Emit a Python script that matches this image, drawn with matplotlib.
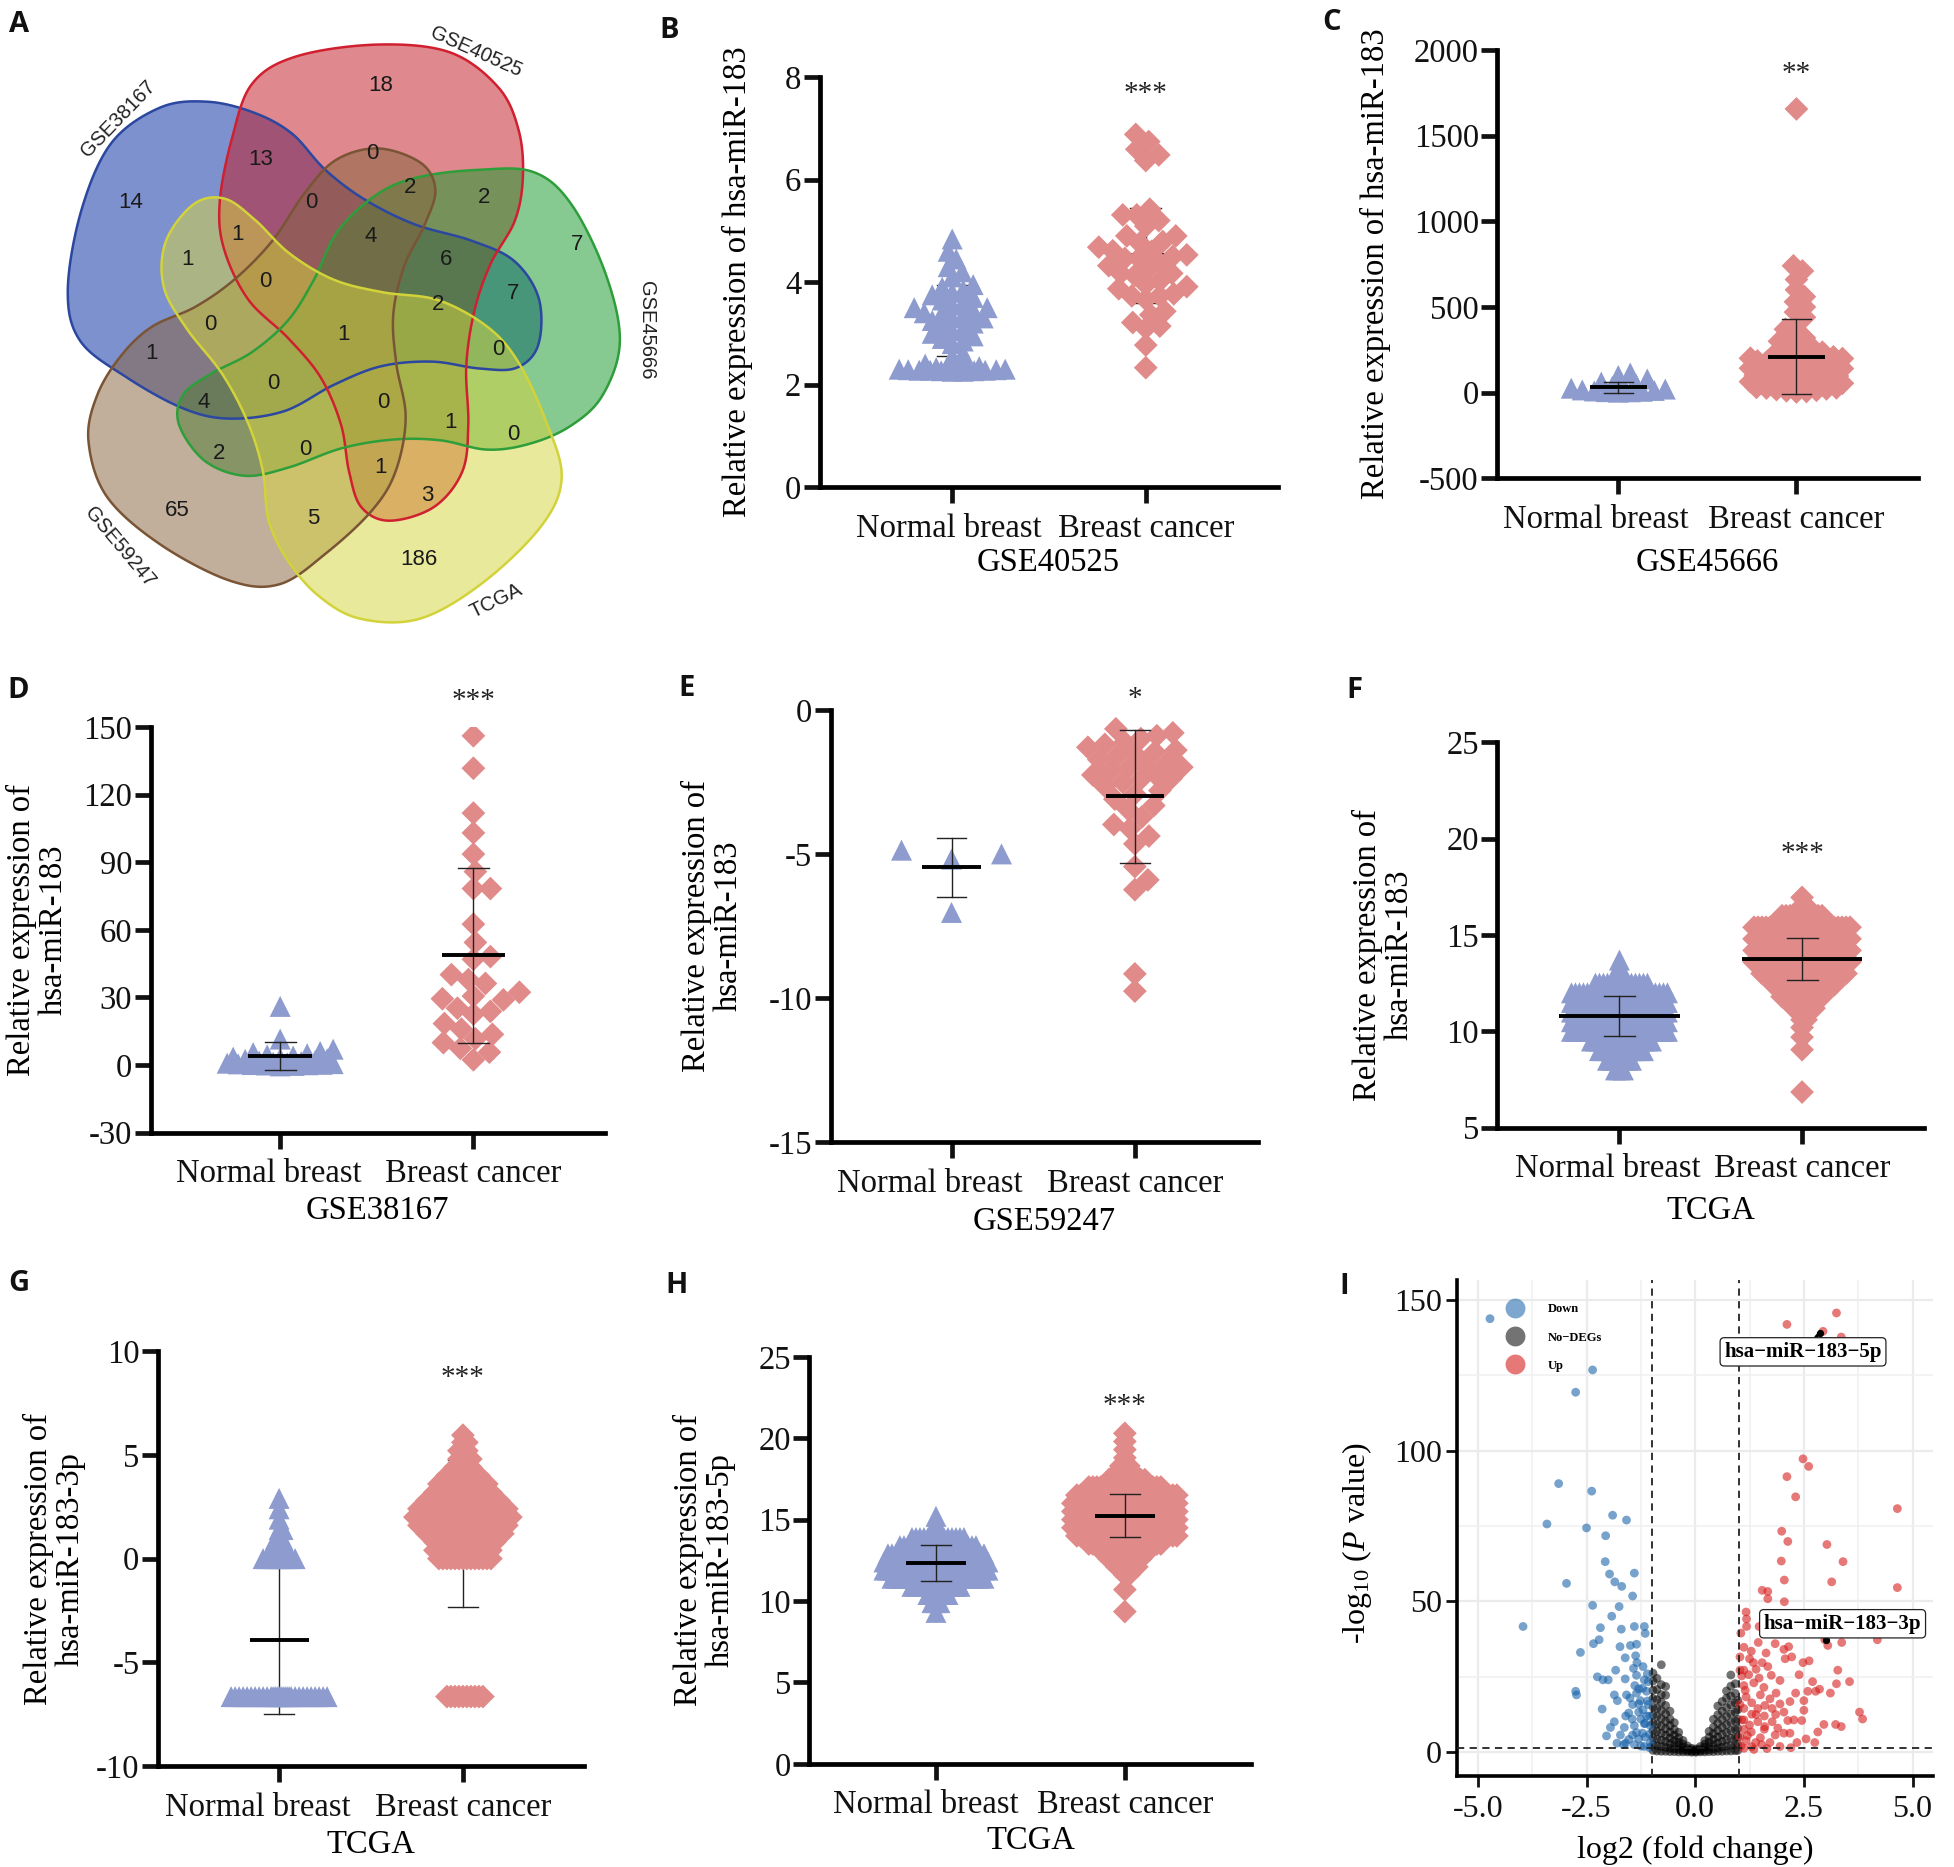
import numpy as np
import matplotlib
matplotlib.use("Agg")
import matplotlib.pyplot as plt
from matplotlib.patches import Polygon
from matplotlib.lines import Line2D
from matplotlib.ticker import MultipleLocator, FormatStrFormatter
from matplotlib.transforms import ScaledTranslation

plt.rcParams['font.family'] = 'serif'
plt.rcParams['font.serif'] = ['Liberation Serif', 'DejaVu Serif']
plt.rcParams['axes.unicode_minus'] = False
plt.rcParams['mathtext.fontset'] = 'custom'
plt.rcParams['mathtext.rm'] = 'Liberation Serif'
plt.rcParams['mathtext.it'] = 'Liberation Serif:italic'

# ---------------- data ----------------
groups = ['Normal breast', 'Breast cancer']

# A: venn counts (31 regions)
venn_sets = ['GSE40525', 'GSE45666', 'TCGA', 'GSE59247', 'GSE38167']
venn_counts = [18, 13, 0, 14, 0, 2, 2, 1, 4, 7, 1, 0, 6, 7, 0, 1, 2, 0, 1, 0,
               4, 0, 1, 0, 2, 0, 1, 3, 65, 5, 186]

# B: GSE40525
gse40525_normal = [4.84, 4.6, 4.45, 4.3, 4.2, 4.1, 3.95, 3.9, 3.85, 3.8, 3.75, 3.7,
                   3.65, 3.6, 3.55, 3.5, 3.5, 3.45, 3.4, 3.4, 3.35, 3.3, 3.3, 3.25,
                   3.2, 3.15, 3.1, 3.05, 3.0, 2.95, 2.9, 2.85, 2.8, 2.6, 2.55, 2.4,
                   2.35, 2.33, 2.32, 2.31, 2.3, 2.3, 2.3, 2.29, 2.29, 2.28, 2.28,
                   2.28, 2.27, 2.27, 2.26, 2.26]
gse40525_cancer = [6.88, 6.74, 6.59, 6.48, 6.37, 5.42, 5.31, 5.31, 5.09, 5.2, 4.9,
                   4.9, 4.79, 4.61, 4.76, 4.5, 4.68, 4.6, 4.53, 4.35, 4.32, 4.24,
                   4.13, 4.17, 4.46, 4.17, 4.46, 3.73, 3.77, 3.91, 3.87, 3.73, 4.02,
                   3.95, 3.66, 3.43, 3.36, 3.21, 3.1, 3.14, 2.77, 2.33]
# C: GSE45666
gse45666_normal = [115, 100, 80, 62, 48, 37, 30, 26, 21, 16, 13, 10, 8, 6, 5, 3]
gse45666_cancer = [1655, 740, 710, 660, 600, 560, 530, 500, 470, 440, 400, 370, 340,
                   320, 300, 280, 260, 248, 236, 231, 222, 214, 209, 201, 196, 188,
                   183, 177, 171, 164, 158, 152, 149, 141, 137, 130, 126, 119, 113,
                   108, 102, 97, 93, 88, 84, 79, 73, 69, 64, 58, 55, 49, 45, 41, 36,
                   31, 27, 22, 18, 14, 11, 7, 4, 199, 185, 166, 143, 121, 99, 77, 52, 28]
# D: GSE38167
gse38167_normal = [26, 11.5, 7.0, 6.0, 5.5, 5.0, 4.5, 4.0, 3.5, 3.0, 2.8, 2.5, 2.0,
                   1.8, 1.5, 1.2, 1.0, 0.8, 0.6, 0.5, 0.3, 0.2, 0.1, 0.0, -0.2, -0.4]
gse38167_cancer = [146.1, 131.7, 111.8, 103.0, 93.6, 85.8, 78.3, 78.3, 62.5, 54.4,
                   48.1, 46.9, 40.1, 37.9, 36.2, 30.6, 29.4, 28.9, 32.3, 23.8, 22.6,
                   25.2, 18.4, 15.9, 13.6, 11.6, 9.9, 7.4, 5.7, 2.3]
# E: GSE59247
gse59247_normal = [-4.87, -5.18, -5.0, -7.03]
gse59247_cancer = [-0.66, -0.8, -1.0, -1.13, -1.2, -1.6, -1.46, -1.53, -1.73, -2.26,
                   -2.26, -2.12, -2.65, -2.52, -3.32, -3.72, -3.98, -4.38, -4.65,
                   -5.44, -5.9, -6.24, -9.16, -9.76, -1.86, -2.39, -1.99, -2.92,
                   -3.45, -4.12, -0.9, -1.3, -1.4, -1.9, -2.0, -2.4, -2.8, -3.1]
# F: TCGA hsa-miR-183 (value levels and number of samples drawn at each)
tcga183_normal_lv = [8.0, 8.5, 9.0, 9.5, 10.0, 10.5, 11.0, 11.5, 12.0, 12.5, 13.0, 13.7]
tcga183_normal_n = [3, 7, 12, 16, 26, 28, 28, 28, 27, 14, 3, 1]
tcga183_cancer_lv = [6.85, 9.05, 9.7, 10.2, 10.6, 11.2, 11.8, 12.4, 13.0, 13.6, 14.2,
                     14.8, 15.4, 16.0, 16.5, 16.95]
tcga183_cancer_n = [1, 1, 1, 1, 2, 6, 11, 16, 22, 28, 28, 28, 26, 11, 2, 1]
# G: TCGA hsa-miR-183-3p
tcga3p_normal_lv = [-6.65, 0.0, 0.45, 0.9, 1.4, 1.9, 2.4, 2.9]
tcga3p_normal_n = [30, 9, 5, 3, 2, 1, 1, 1]
tcga3p_cancer_lv = [-6.65, 0.0, 0.4, 0.8, 1.2, 1.6, 2.0, 2.4, 2.8, 3.2, 3.6, 4.0, 4.4,
                    4.8, 5.2, 5.6, 5.95]
tcga3p_cancer_n = [10, 14, 15, 16, 20, 23, 25, 23, 19, 15, 13, 9, 5, 4, 3, 2, 1]
# H: TCGA hsa-miR-183-5p
tcga5p_normal_lv = [9.3, 9.9, 10.4, 10.9, 11.4, 11.9, 12.4, 12.9, 13.4, 13.9, 14.3, 14.8, 15.2]
tcga5p_normal_n = [1, 3, 6, 13, 24, 28, 27, 25, 20, 14, 3, 1, 1]
tcga5p_cancer_lv = [9.35, 10.7, 11.6, 12.1, 12.6, 13.1, 13.5, 14.0, 14.5, 15.0, 15.5,
                    16.0, 16.5, 17.0, 17.45, 17.9, 18.3, 18.8, 19.3, 19.8, 20.3]
tcga5p_cancer_n = [1, 1, 2, 6, 9, 13, 19, 26, 27, 27, 27, 27, 26, 19, 10, 5, 3, 1, 1, 1, 1]

# mean and SD of each group (normal, cancer)
stats_b = [(3.25, 0.70), (4.52, 0.92)]
stats_c = [(31, 33), (210, 220)]
stats_d = [(4.0, 6.0), (48.6, 39.0)]
stats_e = [(-5.47, 1.03), (-3.0, 2.3)]
stats_f = [(10.8, 1.05), (13.75, 1.1)]
stats_g = [(-3.94, 3.55), (1.2, 3.55)]
stats_h = [(12.35, 1.1), (15.25, 1.3)]

# I: volcano (log2 fold change, -log10 p)
down_pts = [(-4.72, 143.8), (-2.36, 126.8), (-2.75, 119.4), (-3.14, 89.1), (-2.38, 86.6),
            (-3.41, 75.7), (-2.50, 74.4), (-1.90, 78.6), (-1.58, 77.0), (-2.06, 71.8),
            (-2.07, 63.2), (-1.97, 59.1), (-1.85, 56.5), (-1.69, 55.0), (-1.40, 59.4),
            (-1.44, 51.8), (-2.96, 56.0), (-2.36, 48.7), (-1.75, 48.3), (-1.92, 45.1),
            (-3.96, 41.7), (-2.18, 41.3), (-1.70, 40.8), (-1.40, 41.7), (-1.17, 41.7),
            (-1.15, 39.4), (-2.64, 33.1), (-2.34, 36.0), (-2.21, 37.3), (-1.73, 35.0),
            (-1.49, 35.4), (-1.35, 35.8), (-1.61, 31.3), (-1.37, 32.0), (-1.34, 29.7),
            (-1.42, 27.8), (-1.20, 28.4), (-2.25, 25.0), (-2.12, 24.0), (-2.00, 24.0),
            (-1.83, 27.2), (-1.61, 24.3), (-1.35, 25.5), (-1.17, 24.0), (-1.08, 23.4),
            (-1.39, 22.1), (-1.21, 21.2), (-2.75, 20.2), (-2.73, 19.0), (-1.86, 19.0),
            (-1.58, 19.0), (-1.35, 19.6), (-1.12, 20.2), (-2.14, 14.3), (-1.79, 17.1),
            (-1.44, 15.8), (-1.26, 17.1), (-1.08, 15.8), (-1.53, 13.0), (-1.30, 13.3),
            (-1.12, 12.0), (-1.86, 10.1), (-1.95, 8.2), (-1.63, 8.2), (-1.40, 8.8),
            (-1.17, 9.5), (-1.03, 8.8), (-2.04, 5.4), (-1.72, 5.7), (-1.44, 5.7),
            (-1.21, 6.3), (-1.65, 2.5), (-1.40, 2.5), (-1.17, 1.9), (-1.03, 3.2),
            (-1.30, 4.4), (-1.53, 4.2), (-1.05, 12.0), (-1.10, 17.0), (-1.25, 11.0),
            (-1.15, 5.0), (-1.05, 1.5), (-1.25, 2.0), (-1.45, 11.0), (-1.60, 12.0),
            (-1.10, 26.0), (-1.30, 21.0), (-1.50, 18.0), (-1.20, 14.0), (-1.35, 6.5),
            (-1.60, 3.0), (-1.80, 3.0), (-1.05, 6.0), (-1.15, 9.5), (-1.30, 16.0)]
up_pts = [(2.11, 141.9), (3.25, 145.7), (2.94, 139.6), (3.36, 137.7), (2.48, 97.3),
          (2.61, 94.8), (2.11, 91.4), (2.31, 84.7), (4.65, 80.8), (1.99, 73.3),
          (2.13, 69.9), (3.03, 68.9), (3.40, 63.2), (1.98, 63.4), (2.05, 57.1),
          (3.14, 56.5), (4.65, 54.6), (1.54, 53.7), (1.67, 53.3), (1.67, 50.9),
          (2.05, 49.9), (1.17, 46.5), (1.18, 44.2), (1.18, 41.7), (1.47, 41.7),
          (2.04, 41.1), (2.89, 40.4), (4.19, 37.3), (3.37, 36.4), (3.05, 35.4),
          (2.98, 37.3), (1.45, 36.4), (1.84, 36.0), (2.15, 35.0), (1.12, 34.8),
          (1.29, 33.5), (2.04, 34.1), (1.63, 32.9), (2.22, 31.6), (1.03, 31.6),
          (1.34, 29.7), (1.54, 29.7), (2.07, 31.0), (2.48, 29.7), (2.62, 30.3),
          (3.28, 27.2), (1.12, 27.2), (1.67, 28.4), (2.39, 25.7), (1.23, 25.7),
          (1.47, 24.6), (1.95, 23.8), (3.55, 23.4), (3.25, 22.7), (2.70, 23.4),
          (1.12, 22.1), (1.58, 21.5), (2.59, 20.2), (2.77, 20.2), (2.86, 20.9),
          (3.11, 19.6), (2.31, 19.6), (1.86, 19.6), (1.17, 18.3), (1.30, 16.4),
          (1.72, 17.7), (2.18, 16.8), (2.50, 17.1), (1.44, 14.5), (1.12, 14.5),
          (1.77, 14.5), (2.04, 13.3), (2.50, 13.9), (3.78, 13.3), (3.85, 11.0),
          (1.30, 12.6), (1.59, 12.0), (1.12, 10.7), (1.44, 10.1), (1.77, 10.1),
          (2.13, 10.5), (2.27, 10.7), (2.45, 10.5), (2.96, 9.2), (3.23, 9.2),
          (3.36, 8.5), (2.82, 6.7), (1.12, 7.6), (1.29, 6.7), (1.59, 7.6),
          (1.84, 5.7), (2.04, 6.3), (2.18, 6.3), (2.55, 4.4), (2.34, 3.2),
          (2.75, 3.2), (1.17, 3.8), (1.39, 3.2), (1.72, 3.2), (1.95, 1.9),
          (1.12, 1.3), (1.35, 0.9), (1.53, 2.5), (1.03, 5.1), (1.07, 10.7),
          (1.03, 15.8), (1.07, 25.3), (1.03, 27.2), (1.05, 2.0), (1.20, 5.5),
          (1.25, 9.0), (1.40, 12.5), (1.15, 20.5), (1.35, 23.0), (1.50, 19.0),
          (1.60, 15.5), (1.25, 31.0), (1.40, 27.5), (1.05, 39.5), (1.60, 8.5),
          (1.85, 12.5), (1.90, 8.0), (1.50, 4.8), (1.30, 1.8), (1.65, 1.2),
          (2.20, 1.5), (1.75, 25.5), (1.95, 16.0)]
nodeg_cols = [-0.97, -0.88, -0.78, -0.68, -0.58, -0.48, -0.38, -0.28, -0.18, -0.08, 0.02,
              0.12, 0.22, 0.32, 0.42, 0.52, 0.62, 0.72, 0.82, 0.92, 0.98]
nodeg_ys = [[0.6, 2.5, 4.8, 7.1, 9.6, 12.3, 14.9, 17.8, 20.5, 23.6, 26.2],
            [0.4, 2.1, 4.4, 6.9, 9.3, 12.0, 14.6, 17.4, 20.8, 24.5],
            [0.3, 1.9, 4.0, 6.3, 8.7, 11.2, 13.9, 16.6, 19.1, 22.4, 29.0],
            [0.3, 1.6, 3.5, 5.6, 7.8, 10.2, 12.7, 15.5, 18.9, 21.8],
            [0.2, 1.3, 2.9, 4.7, 6.6, 8.8, 11.0, 13.6],
            [0.2, 1.1, 2.4, 3.9, 5.6, 7.5, 9.8],
            [0.1, 0.9, 2.0, 3.3, 4.8, 6.6],
            [0.1, 0.7, 1.6, 2.7, 3.9],
            [0.1, 0.5, 1.2, 2.1],
            [0.0, 0.3, 0.8, 1.3],
            [0.0, 0.3, 0.7, 1.1],
            [0.1, 0.5, 1.1, 1.9],
            [0.1, 0.7, 1.6, 2.7, 3.8],
            [0.2, 0.9, 2.0, 3.4, 5.0, 6.9],
            [0.2, 1.1, 2.5, 4.2, 6.1, 8.3, 10.9],
            [0.3, 1.4, 3.1, 5.0, 7.2, 9.6, 12.4, 15.3],
            [0.3, 1.7, 3.6, 5.8, 8.2, 10.8, 13.6, 16.8],
            [0.4, 2.0, 4.2, 6.6, 9.2, 11.9, 14.8, 17.9, 20.3],
            [0.4, 2.2, 4.6, 7.2, 9.9, 12.7, 15.7, 18.6, 21.9, 25.6],
            [0.5, 2.4, 4.9, 7.6, 10.4, 13.3, 16.4, 19.5, 22.7],
            [0.6, 2.6, 5.1, 7.9, 10.9, 14.1, 17.2]]
labelled = [('hsa\u2212miR\u2212183\u22125p', 2.86, 139.0, 2.48, 132.8),
            ('hsa\u2212miR\u2212183\u22123p', 3.00, 37.3, 3.39, 42.6)]

# ---------------- figure ----------------
W, H = 1954, 1867
fig = plt.figure(figsize=(W / 100, H / 100), dpi=100)
BLUE = '#8D9BCE'
PINK = '#E08A89'
FS = 23.5


def rect(left, right, top, bottom):
    return [left / W, 1 - bottom / H, (right - left) / W, (bottom - top) / H]


def swarm_x(ax, xc, vals, r, cap, step=1.0):
    vals = np.asarray(vals, float)
    pix = ax.transData.transform(np.column_stack([np.full(len(vals), xc), vals]))
    x0, ypx = pix[0, 0], pix[:, 1]
    k = np.arange(1, int(cap / step) + 1) * step
    cands = np.concatenate([[0.0], np.column_stack([k, -k]).ravel()])
    off = np.zeros(len(vals))
    px, py = [], []
    for i in np.argsort(ypx, kind='stable'):
        if px:
            d2 = (cands[:, None] - np.array(px)[None, :]) ** 2 + \
                 (ypx[i] - np.array(py))[None, :] ** 2
            m = d2.min(axis=1)
            ok = np.nonzero(m >= r * r)[0]
            j = ok[0] if len(ok) else int(np.argmax(m))
        else:
            j = 0
        off[i] = cands[j]
        px.append(cands[j])
        py.append(ypx[i])
    back = ax.transData.inverted().transform(np.column_stack([x0 + off, ypx]))
    return back[:, 0]


panels = [
    dict(box=(819.6, 1277.6, 77.0, 487.1), ylim=(0, 8), step=2, xlim=(-0.685, 1.681),
         ylabel='Relative expression of hsa-miR-183', xlabel='GSE40525',
         data=(gse40525_normal, gse40525_cancer), stats=stats_b, stars='***', star_y=7.77,
         r=(11, 14), cap=(53, 51), err_top=False, half=0.165, lab=(753, 0.5), xl=76, nshift=-3),
    dict(box=(1497.1, 1917.6, 49.8, 478.4), ylim=(-500, 2000), step=500, xlim=(-0.68, 1.68),
         ylabel='Relative expression of hsa-miR-183', xlabel='GSE45666',
         data=(gse45666_normal, gse45666_cancer), stats=stats_c, stars='**', star_y=1888,
         r=(12, 10), cap=(47, 46), err_top=True, half=0.16, lab=(1391, 0.5), xl=84, nshift=-22),
    dict(box=(150.7, 604.8, 727.0, 1132.6), ylim=(-30, 150), step=30, xlim=(-0.67, 1.68),
         ylabel='Relative expression of\nhsa-miR-183', xlabel='GSE38167',
         data=(gse38167_normal, gse38167_cancer), stats=stats_d, stars='***', star_y=163.6,
         r=(14, 17), cap=(53, 54), err_top=True, half=0.165, lab=(69, 0.5), xl=78, nshift=-11),
    dict(box=(830.5, 1257.7, 709.8, 1142.2), ylim=(-15, 0), step=5, xlim=(-0.66, 1.67),
         ylabel='Relative expression of\nhsa-miR-183', xlabel='GSE59247',
         data=(gse59247_normal, gse59247_cancer), stats=stats_e, stars='*', star_y=0.53,
         r=(50, 16), cap=(52, 47), err_top=True, half=0.16, lab=(744, 0.5), xl=80, nshift=-22),
    dict(box=(1497.1, 1924.4, 742.3, 1127.7), ylim=(5, 25), step=5, xlim=(-0.67, 1.67),
         ylabel='Relative expression of\nhsa-miR-183', xlabel='TCGA',
         data=(np.repeat(tcga183_normal_lv, tcga183_normal_n),
               np.repeat(tcga183_cancer_lv, tcga183_cancer_n)),
         stats=stats_f, stars='***', star_y=19.44,
         r=(3.75, 3.75), cap=(50, 50), err_top=True, half=0.33, lab=(1415, 0.449), xl=83,
         nshift=-12),
    dict(box=(157.8, 584.2, 1351.1, 1766.1), ylim=(-10, 10), step=5, xlim=(-0.66, 1.66),
         ylabel='Relative expression of\nhsa-miR-183-3p', xlabel='TCGA',
         data=(np.repeat(tcga3p_normal_lv, tcga3p_normal_n),
               np.repeat(tcga3p_cancer_lv, tcga3p_cancer_n)),
         stats=stats_g, stars='***', star_y=8.95,
         r=(3.75, 3.75), cap=(48, 50), err_top=False, half=0.16, lab=(86, 0.5), xl=79,
         nshift=-21),
    dict(box=(809.4, 1251.4, 1356.8, 1763.8), ylim=(0, 25), step=5, xlim=(-0.67, 1.67),
         ylabel='Relative expression of\nhsa-miR-183-5p', xlabel='TCGA',
         data=(np.repeat(tcga5p_normal_lv, tcga5p_normal_n),
               np.repeat(tcga5p_cancer_lv, tcga5p_cancer_n)),
         stats=stats_h, stars='***', star_y=22.26,
         r=(3.75, 3.75), cap=(52, 52), err_top=True, half=0.16, lab=(736, 0.5), xl=77,
         nshift=-10),
]

for p in panels:
    l, rgt, t, b = p['box']
    ax = fig.add_axes(rect(l, rgt, t, b))
    ax.set_xlim(*p['xlim'])
    ax.set_ylim(*p['ylim'])
    ax.yaxis.set_major_locator(MultipleLocator(p['step']))
    ax.set_xticks([0, 1])
    ax.set_xticklabels(groups)
    for s in ['top', 'right']:
        ax.spines[s].set_visible(False)
    for s in ['left', 'bottom']:
        ax.spines[s].set_linewidth(3.4)
    ax.tick_params(width=3.4, length=11.7, labelsize=FS, colors='#111111')
    ax.tick_params(axis='y', pad=1.5)
    ax.tick_params(axis='x', pad=7)
    lab0 = ax.get_xticklabels()[0]
    lab0.set_transform(lab0.get_transform() +
                       ScaledTranslation(p['nshift'] / 100, 0, fig.dpi_scale_trans))

    for gi, (vals, mk, col, ms) in enumerate(zip(p['data'], ['^', 'D'], [BLUE, PINK], [15.1, 12.1])):
        xs = swarm_x(ax, gi, vals, p['r'][gi], p['cap'][gi])
        ax.scatter(xs, vals, marker=mk, s=ms ** 2, c=col, edgecolors='none', zorder=3)
        m, sd = p['stats'][gi]
        z = 4 if p['err_top'] else 2
        cap = 0.085 if p['half'] > 0.3 else 0.08
        ax.plot([gi, gi], [m - sd, m + sd], color='#222222', lw=1.0, zorder=z)
        ax.plot([gi - cap, gi + cap], [m - sd, m - sd], color='#222222', lw=1.0, zorder=z)
        ax.plot([gi - cap, gi + cap], [m + sd, m + sd], color='#222222', lw=1.0, zorder=z)
        ax.plot([gi - p['half'], gi + p['half']], [m, m], color='black', lw=2.8,
                solid_capstyle='butt', zorder=z)

    ax.annotate(p['stars'], xy=(1, p['star_y']), xytext=(0, -8.5), textcoords='offset points',
                ha='center', va='baseline', fontsize=21, color='#222222',
                annotation_clip=False)
    ax.set_ylabel(p['ylabel'], fontsize=FS, linespacing=1.05)
    ax.yaxis.set_label_coords((p['lab'][0] - l) / (rgt - l), p['lab'][1])
    ax.set_xlabel(p['xlabel'], fontsize=FS, va='center')
    ax.xaxis.set_label_coords(0.5, -p['xl'] / (b - t))

# ---------------- A: venn ----------------
axA = fig.add_axes(rect(0, 680, 0, 660))
axA.set_xlim(0, 680)
axA.set_ylim(660, 0)
axA.axis('off')

# outline of the GSE40525 shape; the others are rotations of it
SX, SY = 0.4209, 0.4082
shape = np.array([(900, 80), (1080, 100), (1200, 190), (1250, 300), (1260, 420),
                  (1240, 530), (1180, 640), (1140, 760), (1120, 900), (1125, 1050),
                  (1110, 1170), (1040, 1260), (930, 1295), (860, 1260), (830, 1170),
                  (810, 1050), (760, 930), (680, 830), (580, 730), (520, 600),
                  (510, 480), (540, 320), (590, 180), (700, 110)], float) * [SX, SY]
centre = np.array([815 * SX, 810 * SY])


def smooth_closed(pts, n=16):
    out = []
    N = len(pts)
    t = np.linspace(0, 1, n, endpoint=False)[:, None]
    for i in range(N):
        p0, p1, p2, p3 = pts[i - 1], pts[i], pts[(i + 1) % N], pts[(i + 2) % N]
        out.append(0.5 * (2 * p1 + (-p0 + p2) * t + (2 * p0 - 5 * p1 + 4 * p2 - p3) * t ** 2
                          + (-p0 + 3 * p1 - 3 * p2 + p3) * t ** 3))
    return np.vstack(out)


base = (smooth_closed(shape) - centre) * 0.96
venn_face = ['#C21B24', '#189B2D', '#D5D540', '#886440', '#092DA4']
venn_edge = ['#D02030', '#2E9E3A', '#D2D23A', '#7A5535', '#2B47A0']
# small per-shape corrections (scale, dx, dy) so the rotated copies sit like the original
venn_fit = [(1.0, 0, 0), (0.95, -6, -4), (1.0, 0, 0), (0.97, 6, 8), (1.0, 0, 0)]
for k in [4, 0, 1, 3, 2]:
    th = np.deg2rad(72 * k)
    R = np.array([[np.cos(th), -np.sin(th)], [np.sin(th), np.cos(th)]])
    sc, dx, dy = venn_fit[k]
    poly = (base @ R.T) * sc + centre + [dx, dy]
    axA.add_patch(Polygon(poly, closed=True, facecolor=venn_face[k], alpha=0.52,
                          edgecolor='none', zorder=1))
    axA.add_patch(Polygon(poly, closed=True, facecolor='none', edgecolor=venn_edge[k],
                          lw=1.8, zorder=2))

venn_xy = np.array([(905, 210), (620, 390), (885, 375), (310, 495), (740, 495), (975, 460),
                    (1150, 485), (565, 575), (880, 580), (1370, 600), (445, 635), (630, 690),
                    (1060, 635), (1220, 720), (500, 795), (815, 820), (1040, 745), (1185, 855),
                    (360, 865), (650, 940), (485, 985), (910, 985), (1070, 1035), (1220, 1065),
                    (520, 1110), (725, 1100), (905, 1145), (1015, 1215), (420, 1250),
                    (745, 1270), (995, 1370)], float) * [SX, SY]
for n, (x, y) in zip(venn_counts, venn_xy):
    axA.text(x, y, str(n), ha='center', va='center', fontsize=16,
             family='Liberation Sans', color='#1a1a1a', zorder=3)
set_label_pos = [(476.5, 52.2, -24), (646, 329.8, -90), (495.8, 600.9, 26),
                 (120, 547, -50), (117.9, 119.2, 46)]
for name, (x, y, rot) in zip(venn_sets, set_label_pos):
    axA.text(x, y, name, ha='center', va='center', rotation=rot, fontsize=14.5,
             family='Liberation Sans', color='#222222', zorder=3)

# ---------------- I: volcano ----------------
IL, IR, IT, IB = 1457.4, 1933.0, 1279.5, 1776.3
axI = fig.add_axes(rect(IL, IR, IT, IB))
axI.set_xlim(-5.47, 5.47)
axI.set_ylim(-8, 156.8)
axI.xaxis.set_major_locator(MultipleLocator(2.5))
axI.xaxis.set_minor_locator(MultipleLocator(1.25))
axI.yaxis.set_major_locator(MultipleLocator(50))
axI.yaxis.set_minor_locator(MultipleLocator(25))
axI.xaxis.set_major_formatter(FormatStrFormatter('%.1f'))
axI.grid(which='major', color='#EBEBEB', lw=1.6)
axI.grid(which='minor', color='#F0F0F0', lw=1.1)
axI.set_axisbelow(True)
for s in ['top', 'right']:
    axI.spines[s].set_visible(False)
for s in ['left', 'bottom']:
    axI.spines[s].set_linewidth(2.6)
axI.tick_params(which='major', width=2.0, length=7.7, labelsize=23, colors='#111111')
axI.tick_params(which='minor', length=0)
axI.tick_params(axis='x', pad=6)

nd_x = [c for c, ys in zip(nodeg_cols, nodeg_ys) for _ in ys]
nd_y = [v for ys in nodeg_ys for v in ys]
dn = np.array(down_pts)
upa = np.array(up_pts)
axI.scatter(nd_x, nd_y, s=40, c='black', alpha=0.55, edgecolors='none', zorder=3)
axI.scatter(dn[:, 0], dn[:, 1], s=40, c='#1560A8', alpha=0.58, edgecolors='none', zorder=3)
axI.scatter(upa[:, 0], upa[:, 1], s=40, c='#D81E1E', alpha=0.6, edgecolors='none', zorder=3)
for v in (-1, 1):
    axI.axvline(v, color='#222222', ls=(0, (4, 3)), lw=1.3, zorder=4)
axI.axhline(-np.log10(0.05), color='#222222', ls=(0, (4, 3)), lw=1.3, zorder=4)

for name, px, py, tx, ty in labelled:
    axI.scatter([px], [py], s=18, c='black', zorder=6)
    axI.annotate(name, xy=(px, py), xytext=(tx, ty), ha='center', va='center',
                 fontsize=15, weight='bold', zorder=7,
                 bbox=dict(boxstyle='round,pad=0.2,rounding_size=0.2', fc='white',
                           ec='#222222', lw=0.9),
                 arrowprops=dict(arrowstyle='-', color='black', lw=2.4,
                                 shrinkA=0, shrinkB=0))

handles = [Line2D([], [], marker='o', ls='', ms=14.3, color=c, alpha=a, mec='none')
           for c, a in [('#1560A8', 0.55), ('black', 0.55), ('#D81E1E', 0.6)]]
axI.legend(handles, ['Down', 'No\u2212DEGs', 'Up'], loc='upper left',
           bbox_to_anchor=(0.095, 0.952), frameon=False, labelspacing=1.3,
           handletextpad=1.6, borderaxespad=0, borderpad=0,
           prop=dict(family='serif', weight='bold', size=9))
axI.set_xlabel('log2 (fold change)', fontsize=23, va='center')
axI.xaxis.set_label_coords(0.5, -74 / (IB - IT))
axI.set_ylabel(r'-log$_{10}$ ($\it{P}$ value)', fontsize=23)
axI.yaxis.set_label_coords((1374 - IL) / (IR - IL), 0.47)

# ---------------- panel letters ----------------
letters = [('A', 19, 24), ('B', 669, 31), ('C', 1332, 23), ('D', 18, 691), ('E', 687, 689),
           ('F', 1354, 691), ('G', 19, 1283), ('H', 677, 1285), ('I', 1344, 1287)]
for s, x, y in letters:
    fig.text(x / W, 1 - y / H, s, ha='center', va='center', fontsize=21, weight='bold',
             family=['Open Sans', 'DejaVu Sans'], color='#111111')

fig.savefig('out.png', dpi=100)
